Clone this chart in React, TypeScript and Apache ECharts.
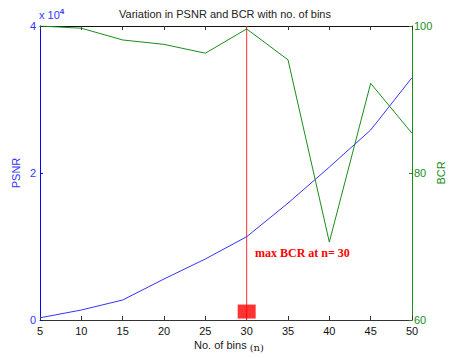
import React, { useEffect, useRef } from "react";
import * as echarts from "echarts";

const bins = [5, 10, 15, 20, 25, 30, 35, 40, 45, 50];
const psnr = [300, 1360, 2720, 5580, 8300, 11330, 15900, 20800, 25850, 32970];
const bcr = [100, 99.7, 98.1, 97.5, 96.3, 99.6, 95.4, 70.6, 92.2, 85.4];
const maxBin = 30;
const markerPsnr = 1150;
const annotation = "max BCR at n= 30";
const titleText = "Variation in PSNR and BCR with no. of bins";
const xName = "No. of bins";
const leftName = "PSNR";
const rightName = "BCR";

export default function App() {
  const ref = useRef<HTMLDivElement>(null);
  useEffect(() => {
    if (!ref.current) return;
    const chart = echarts.init(ref.current, undefined, { renderer: "svg" });
    const font = "Liberation Sans";
    chart.setOption({
      animation: false,
      backgroundColor: "#fff",
      graphic: [
        {
          type: "text",
          x: 225,
          y: 14,
          style: {
            text: titleText,
            fontFamily: font,
            fontSize: 11,
            fill: "#222",
            align: "center",
            verticalAlign: "middle",
          },
        },
        {
          type: "text",
          left: 39,
          top: 7,
          style: {
            text: "x 10{s|4}",
            fontFamily: font,
            fontSize: 11,
            fill: "#3333ff",
            rich: { s: { fontSize: 8, fontWeight: "bold", fill: "#3333ff", padding: [0, 0, 7, 0] } },
          },
        },
        {
          type: "text",
          x: 229,
          y: 345,
          style: {
            text: xName + " {n|(n)}",
            fontFamily: font,
            fontSize: 11,
            fill: "#222",
            align: "center",
            verticalAlign: "middle",
            rich: { n: { fontFamily: "DejaVu Serif", fontSize: 10, fill: "#222", padding: [4, 0, 0, 0] } },
          },
        },
        {
          type: "text",
          x: 16,
          y: 173,
          rotation: Math.PI / 2,
          style: {
            text: leftName,
            fontFamily: font,
            fontSize: 11,
            fill: "#3333ff",
            align: "center",
            verticalAlign: "middle",
          },
        },
        {
          type: "text",
          x: 441,
          y: 173,
          rotation: Math.PI / 2,
          style: {
            text: rightName,
            fontFamily: font,
            fontSize: 11,
            fill: "#1a8c1a",
            align: "center",
            verticalAlign: "middle",
          },
        },
        {
          type: "text",
          left: 255,
          top: 247,
          style: {
            text: annotation,
            fontFamily: "Liberation Serif",
            fontSize: 12,
            fontWeight: "bold",
            fill: "#ff0000",
          },
        },
      ],
      grid: { left: 40, right: 37, top: 26, bottom: 38, containLabel: false, outerBoundsMode: "none" },
      xAxis: [
        {
          type: "value",
          min: 5,
          max: 50,
          interval: 5,
          position: "bottom",
          axisLine: { show: true, lineStyle: { color: "#333", width: 1 } },
          axisTick: { show: true, inside: true, length: 4, lineStyle: { color: "#333" } },
          axisLabel: { fontFamily: font, fontSize: 11, color: "#111", margin: 5 },
          splitLine: { show: false },
        },
        {
          type: "value",
          min: 5,
          max: 50,
          interval: 5,
          position: "top",
          axisLine: { show: true, lineStyle: { color: "#111", width: 1 } },
          axisTick: { show: true, inside: true, length: 4, lineStyle: { color: "#333" } },
          axisLabel: { show: false },
          splitLine: { show: false },
        },
      ],
      yAxis: [
        {
          type: "value",
          min: 0,
          max: 40000,
          interval: 20000,
          position: "left",
          axisLine: { show: true, lineStyle: { color: "#0000ff", width: 1 } },
          axisTick: { show: true, inside: true, length: 3, lineStyle: { color: "#0000ff" } },
          axisLabel: {
            fontFamily: font,
            fontSize: 11,
            color: "#3333ff",
            margin: 4,
            formatter: (v: number) => String(v / 10000),
          },
          splitLine: { show: false },
        },
        {
          type: "value",
          min: 60,
          max: 100,
          interval: 20,
          position: "right",
          axisLine: { show: true, lineStyle: { color: "#1a8c1a", width: 1 } },
          axisTick: { show: true, inside: true, length: 3, lineStyle: { color: "#1a8c1a" } },
          axisLabel: { fontFamily: font, fontSize: 11, color: "#1a8c1a", margin: 2 },
          splitLine: { show: false },
        },
      ],
      series: [
        {
          type: "line",
          xAxisIndex: 0,
          yAxisIndex: 0,
          data: bins.map((b, i) => [b, psnr[i]]),
          symbol: "none",
          lineStyle: { color: "#3333ff", width: 1 },
          z: 3,
        },
        {
          type: "line",
          xAxisIndex: 0,
          yAxisIndex: 1,
          data: bins.map((b, i) => [b, bcr[i]]),
          symbol: "none",
          lineStyle: { color: "#1a8c1a", width: 1 },
          z: 3,
        },
        {
          type: "line",
          xAxisIndex: 0,
          yAxisIndex: 0,
          data: [
            [maxBin, 0],
            [maxBin, 40000],
          ],
          symbol: "none",
          lineStyle: { color: "#ff3030", width: 1 },
          z: 2,
        },
        {
          type: "scatter",
          xAxisIndex: 0,
          yAxisIndex: 0,
          data: [[maxBin, markerPsnr]],
          symbol: "rect",
          symbolSize: [18, 14],
          itemStyle: { color: "#ff0000" },
          z: 4,
        },
      ],
    });
    return () => chart.dispose();
  }, []);
  return <div ref={ref} style={{ position: "fixed", left: 0, top: 0, width: 449, height: 358 }} />;
}
